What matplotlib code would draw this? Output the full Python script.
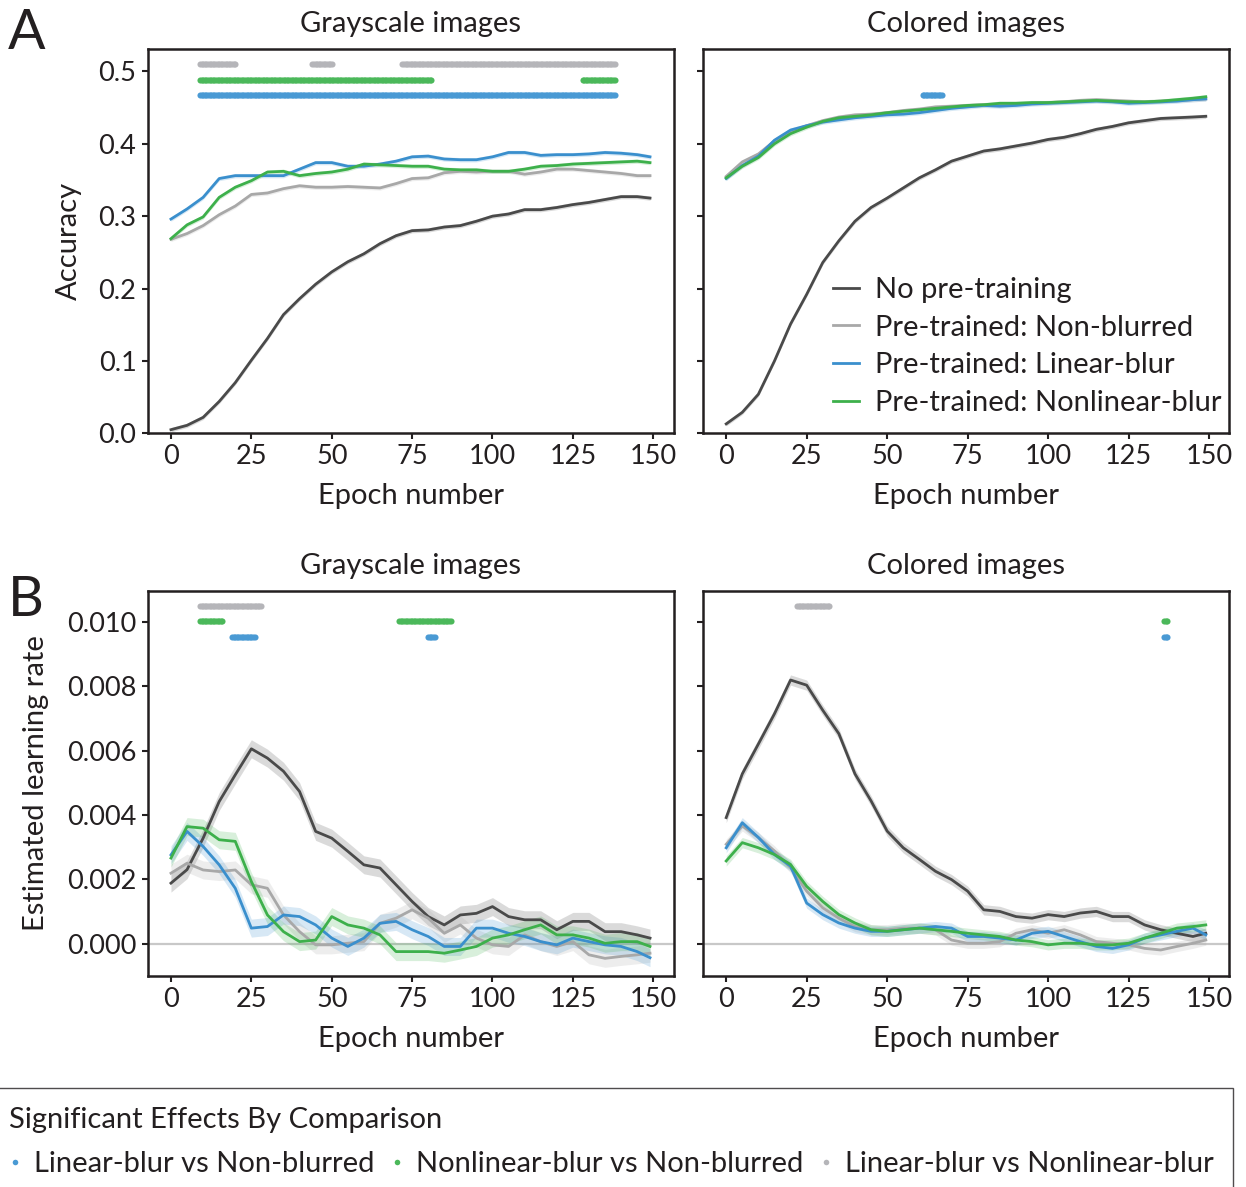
import numpy as np
import matplotlib.pyplot as plt
from matplotlib.lines import Line2D

plt.rcParams['font.family'] = ['Lato', 'DejaVu Sans']
plt.rcParams['text.color'] = '#231f20'
plt.rcParams['axes.labelcolor'] = '#231f20'
plt.rcParams['xtick.color'] = '#231f20'
plt.rcParams['ytick.color'] = '#231f20'

epochs = [0, 5, 10, 15, 20, 25, 30, 35, 40, 45, 50, 55, 60, 65, 70, 75, 80, 85, 90, 95,
          100, 105, 110, 115, 120, 125, 130, 135, 140, 145, 149]

# ---- A: accuracy, grayscale images
acc_gray_none = [0.005, 0.011, 0.022, 0.044, 0.070, 0.101, 0.131, 0.164, 0.186, 0.206, 0.223,
                 0.237, 0.248, 0.262, 0.273, 0.280, 0.281, 0.285, 0.287, 0.293, 0.300, 0.303,
                 0.309, 0.309, 0.312, 0.316, 0.319, 0.323, 0.327, 0.327, 0.325]
acc_gray_nonblur = [0.268, 0.276, 0.287, 0.302, 0.314, 0.330, 0.332, 0.338, 0.342, 0.340, 0.340,
                    0.341, 0.340, 0.339, 0.345, 0.352, 0.353, 0.360, 0.362, 0.361, 0.362, 0.362,
                    0.358, 0.361, 0.365, 0.365, 0.363, 0.361, 0.359, 0.356, 0.356]
acc_gray_linear = [0.296, 0.310, 0.326, 0.352, 0.356, 0.356, 0.356, 0.356, 0.365, 0.374, 0.374,
                   0.369, 0.369, 0.372, 0.376, 0.382, 0.383, 0.379, 0.378, 0.378, 0.382, 0.388,
                   0.388, 0.384, 0.385, 0.385, 0.386, 0.388, 0.387, 0.385, 0.382]
acc_gray_nonlinear = [0.269, 0.288, 0.299, 0.326, 0.340, 0.349, 0.361, 0.362, 0.356, 0.359, 0.361,
                      0.365, 0.372, 0.371, 0.370, 0.369, 0.369, 0.365, 0.364, 0.364, 0.362, 0.362,
                      0.365, 0.369, 0.370, 0.372, 0.373, 0.374, 0.375, 0.376, 0.374]

# ---- A: accuracy, colored images
acc_col_none = [0.013, 0.029, 0.054, 0.100, 0.151, 0.192, 0.236, 0.266, 0.293, 0.312, 0.325,
                0.339, 0.353, 0.364, 0.376, 0.383, 0.390, 0.393, 0.397, 0.401, 0.406, 0.409,
                0.414, 0.420, 0.424, 0.429, 0.432, 0.435, 0.436, 0.437, 0.438]
acc_col_nonblur = [0.355, 0.375, 0.386, 0.404, 0.417, 0.425, 0.432, 0.437, 0.440, 0.441, 0.443,
                   0.446, 0.448, 0.451, 0.452, 0.453, 0.454, 0.453, 0.455, 0.456, 0.457, 0.458,
                   0.460, 0.461, 0.460, 0.459, 0.458, 0.459, 0.460, 0.461, 0.462]
acc_col_linear = [0.352, 0.370, 0.383, 0.405, 0.419, 0.425, 0.430, 0.433, 0.436, 0.438, 0.440,
                  0.441, 0.443, 0.446, 0.449, 0.451, 0.453, 0.452, 0.453, 0.455, 0.456, 0.457,
                  0.458, 0.459, 0.458, 0.456, 0.457, 0.458, 0.459, 0.461, 0.462]
acc_col_nonlinear = [0.353, 0.369, 0.381, 0.400, 0.414, 0.423, 0.431, 0.436, 0.438, 0.440, 0.443,
                     0.445, 0.447, 0.449, 0.451, 0.453, 0.454, 0.456, 0.456, 0.457, 0.457, 0.458,
                     0.459, 0.460, 0.459, 0.458, 0.458, 0.459, 0.461, 0.463, 0.465]

# ---- B: estimated learning rate, grayscale images
lr_gray_none = [0.00188, 0.00230, 0.00328, 0.00442, 0.00525, 0.00606, 0.00577, 0.00536, 0.00473,
                0.00349, 0.00328, 0.00287, 0.00245, 0.00235, 0.00183, 0.00131, 0.00084, 0.00058,
                0.00089, 0.00094, 0.00115, 0.00084, 0.00074, 0.00074, 0.00043, 0.00069, 0.00069,
                0.00037, 0.00037, 0.00027, 0.00017]
lr_gray_nonblur = [0.00219, 0.00250, 0.00229, 0.00224, 0.00229, 0.00183, 0.00172, 0.00089, 0.00037,
                   -0.00004, -0.00004, 0.00001, 0.00006, 0.00063, 0.00079, 0.00105, 0.00079, 0.00032,
                   0.00058, 0.00017, -0.00004, -0.00009, 0.00027, 0.00006, -0.00009, 0.00006,
                   -0.00035, -0.00046, -0.00040, -0.00035, -0.00030]
lr_gray_linear = [0.00276, 0.00349, 0.00302, 0.00245, 0.00172, 0.00048, 0.00053, 0.00089, 0.00084,
                  0.00058, 0.00017, -0.00009, 0.00017, 0.00063, 0.00069, 0.00043, 0.00022, -0.00009,
                  -0.00009, 0.00048, 0.00048, 0.00032, 0.00022, 0.00006, -0.00004, 0.00017, 0.00006,
                  -0.00004, -0.00009, -0.00025, -0.00044]
lr_gray_nonlinear = [0.00266, 0.00364, 0.00359, 0.00323, 0.00318, 0.00193, 0.00089, 0.00037, 0.00006,
                     0.00011, 0.00084, 0.00058, 0.00048, 0.00027, -0.00025, -0.00025, -0.00025,
                     -0.00030, -0.00020, -0.00009, 0.00017, 0.00027, 0.00043, 0.00058, 0.00027,
                     0.00027, 0.00017, 0.00001, 0.00006, 0.00006, -0.00009]

# ---- B: estimated learning rate, colored images
lr_col_none = [0.00392, 0.00528, 0.00621, 0.00715, 0.00820, 0.00804, 0.00726, 0.00653, 0.00528,
               0.00444, 0.00350, 0.00298, 0.00262, 0.00225, 0.00199, 0.00163, 0.00105, 0.00100,
               0.00084, 0.00079, 0.00090, 0.00084, 0.00095, 0.00100, 0.00084, 0.00084, 0.00058,
               0.00043, 0.00032, 0.00022, 0.00032]
lr_col_nonblur = [0.00309, 0.00366, 0.00330, 0.00288, 0.00236, 0.00163, 0.00111, 0.00079, 0.00053,
                  0.00043, 0.00043, 0.00048, 0.00048, 0.00043, 0.00011, 0.00001, 0.00001, 0.00006,
                  0.00032, 0.00043, 0.00032, 0.00043, 0.00027, 0.00006, 0.00001, -0.00004,
                  -0.00015, -0.00020, -0.00009, 0.00001, 0.00011]
lr_col_linear = [0.00298, 0.00376, 0.00330, 0.00277, 0.00241, 0.00126, 0.00090, 0.00064, 0.00048,
                 0.00038, 0.00038, 0.00043, 0.00048, 0.00053, 0.00048, 0.00022, 0.00022, 0.00017,
                 0.00011, 0.00032, 0.00038, 0.00022, 0.00006, -0.00009, -0.00015, -0.00004,
                 0.00017, 0.00027, 0.00038, 0.00048, 0.00027]
lr_col_nonlinear = [0.00257, 0.00314, 0.00298, 0.00277, 0.00246, 0.00178, 0.00131, 0.00090, 0.00064,
                    0.00043, 0.00038, 0.00043, 0.00048, 0.00043, 0.00038, 0.00032, 0.00027, 0.00022,
                    0.00011, 0.00006, -0.00004, 0.00001, 0.00001, -0.00004, -0.00004, 0.00001,
                    0.00017, 0.00032, 0.00048, 0.00053, 0.00058]

# standard-error band half widths
sem_acc = 0.003
sem_lr_gray = 0.00028
sem_lr_col = 0.00016

# significant epoch ranges (start, end) per comparison
sig_acc_gray = {'gray': [(9, 20), (44, 50), (72, 138)],
                'green': [(9, 81), (128, 138)],
                'blue': [(9, 138)]}
sig_acc_col = {'gray': [], 'green': [], 'blue': [(61, 67)]}
sig_lr_gray = {'gray': [(9, 28)], 'green': [(9, 16), (71, 87)], 'blue': [(19, 26), (80, 82)]}
sig_lr_col = {'gray': [(22, 32)], 'green': [(136, 137)], 'blue': [(136, 137)]}

series_labels = ['No pre-training', 'Pre-trained: Non-blurred',
                 'Pre-trained: Linear-blur', 'Pre-trained: Nonlinear-blur']
line_colors = ['#4a4a4a', '#a8a8a8', '#3a8fcd', '#3db04b']
sig_colors = {'blue': '#4a9ad4', 'green': '#4bb85a', 'gray': '#b5b5b9'}
sig_labels = {'blue': 'Linear-blur vs Non-blurred', 'green': 'Nonlinear-blur vs Non-blurred',
              'gray': 'Linear-blur vs Nonlinear-blur'}

FS = 21      # text size
TFS = 19.5   # tick label size

fig = plt.figure(figsize=(12.46, 11.87), dpi=100)
W, H = 1246, 1187


def make_ax(x0, y0, x1, y1):
    return fig.add_axes([x0 / W, 1 - y1 / H, (x1 - x0) / W, (y1 - y0) / H])


axA1 = make_ax(147.5, 49, 673.5, 433.3)
axA2 = make_ax(702.7, 49, 1229.3, 433.3)
axB1 = make_ax(147.5, 591, 673.5, 975.7)
axB2 = make_ax(702.7, 591, 1229.3, 975.7)


def draw(ax, series, sem, sig, sig_y):
    for vals, col, lab in zip(series, line_colors, series_labels):
        v = np.array(vals)
        ax.fill_between(epochs, v - sem, v + sem, color=col, alpha=0.2, lw=0)
        ax.plot(epochs, v, color=col, lw=2.0, label=lab)
    for key in ['gray', 'green', 'blue']:
        for a, b in sig[key]:
            e = np.arange(a, b + 0.5, 0.5)
            ax.plot(e, np.full(len(e), sig_y[key]), 'o', color=sig_colors[key],
                    ms=4.4, mew=0)
    ax.set_xlim(-7.3, 156.3)
    ax.set_xticks([0, 25, 50, 75, 100, 125, 150])
    ax.tick_params(labelsize=TFS, length=4, width=1.5, pad=4)
    for s in ax.spines.values():
        s.set_linewidth(1.8)
        s.set_color('#231f20')
    ax.set_xlabel('Epoch number', fontsize=FS, labelpad=10)


ya = {'gray': 0.5097, 'green': 0.488, 'blue': 0.4668}
yb = {'gray': 0.0105, 'green': 0.01003, 'blue': 0.00954}

draw(axA1, [acc_gray_none, acc_gray_nonblur, acc_gray_linear, acc_gray_nonlinear], sem_acc,
     sig_acc_gray, ya)
draw(axA2, [acc_col_none, acc_col_nonblur, acc_col_linear, acc_col_nonlinear], sem_acc,
     sig_acc_col, ya)
for ax in [axB1, axB2]:
    ax.axhline(0, color='#c8c8c8', lw=1.6, zorder=0)
draw(axB1, [lr_gray_none, lr_gray_nonblur, lr_gray_linear, lr_gray_nonlinear], sem_lr_gray,
     sig_lr_gray, yb)
draw(axB2, [lr_col_none, lr_col_nonblur, lr_col_linear, lr_col_nonlinear], sem_lr_col,
     sig_lr_col, yb)

for ax in [axA1, axA2]:
    ax.set_ylim(0, 0.531)
    ax.set_yticks([0.0, 0.1, 0.2, 0.3, 0.4, 0.5])
for ax in [axB1, axB2]:
    ax.set_ylim(-0.001, 0.01097)
    ax.set_yticks([0.0, 0.002, 0.004, 0.006, 0.008, 0.010])
    ax.set_yticklabels(['0.000', '0.002', '0.004', '0.006', '0.008', '0.010'])
axA1.set_yticklabels(['0.0', '0.1', '0.2', '0.3', '0.4', '0.5'])
axA2.set_yticklabels([])
axB2.set_yticklabels([])

axA1.set_ylabel('Accuracy', fontsize=FS, labelpad=12)
axB1.set_ylabel('Estimated learning rate', fontsize=FS, labelpad=13)
for ax, t in zip([axA1, axA2, axB1, axB2],
                 ['Grayscale images', 'Colored images', 'Grayscale images', 'Colored images']):
    ax.set_title(t, fontsize=FS, pad=12)

fig.text(8 / W, 1 - 49 / H, 'A', fontsize=40)
fig.text(8 / W, 1 - 616 / H, 'B', fontsize=40)

axA2.legend(loc='lower right', bbox_to_anchor=(0.985, 0.045), frameon=False, fontsize=FS,
            handlelength=0.9, handletextpad=0.55, labelspacing=0.4, borderaxespad=0,
            borderpad=0)

handles = [Line2D([], [], ls='none', marker='o', ms=4, mew=0, color=sig_colors[k],
                  label=sig_labels[k]) for k in ['blue', 'green', 'gray']]
leg = fig.legend(handles=handles, loc='upper left', bbox_to_anchor=(-0.008, 1 - 1087.7 / H),
                 ncol=3, fontsize=FS, title='Significant Effects By Comparison',
                 title_fontsize=FS, alignment='left', fancybox=False, edgecolor='#231f20',
                 handlelength=0.4, handletextpad=0.45, columnspacing=0.58, borderpad=0.65,
                 labelspacing=0.62, borderaxespad=0)
leg.get_frame().set_linewidth(1.0)

fig.savefig('out.png', dpi=100)
